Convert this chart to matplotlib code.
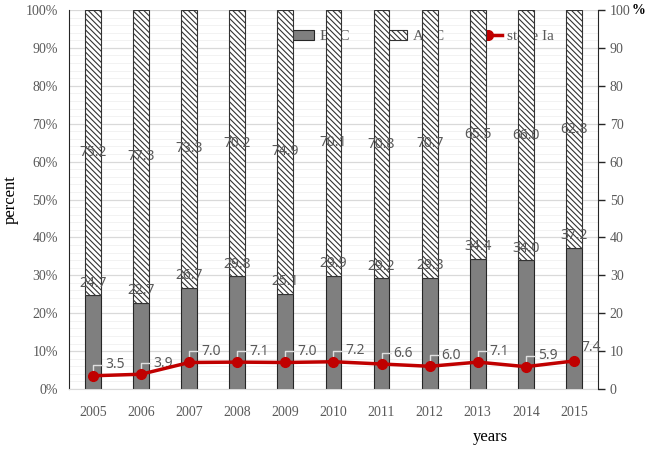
import numpy as np
import matplotlib
matplotlib.use("Agg")
import matplotlib.pyplot as plt
from matplotlib.ticker import MultipleLocator

years = ["2005", "2006", "2007", "2008", "2009", "2010", "2011", "2012", "2013", "2014", "2015"]
egc = [24.7, 22.7, 26.7, 29.8, 25.1, 29.9, 29.2, 29.3, 34.4, 34.0, 37.2]
agc = [75.2, 77.3, 73.3, 70.2, 74.9, 70.1, 70.8, 70.7, 65.5, 66.0, 62.8]
stage_ia = [3.5, 3.9, 7.0, 7.1, 7.0, 7.2, 6.6, 6.0, 7.1, 5.9, 7.4]

SERIF = "Liberation Serif"
SANS = "Noto Sans"
GRAY = "#595959"

plt.rcParams["hatch.linewidth"] = 0.8

x = np.arange(len(years))
egc = np.array(egc)
agc = np.array(agc)

fig = plt.figure(figsize=(6.5, 4.55), dpi=100)
ax1 = fig.add_axes([0.106, 0.145, 0.814, 0.833])
ax2 = ax1.twinx()

w = 0.33
b1 = ax1.bar(x, egc, w, color="#7f7f7f", edgecolor="#262626", linewidth=0.8, zorder=2, label="EGC")
b2 = ax1.bar(x, agc, w, bottom=egc, color="white", edgecolor="#333333", hatch="\\" * 6,
             linewidth=0.8, zorder=2, label="AGC")

for xi, e, a in zip(x, egc, agc):
    ax1.text(xi, e + 1.2, f"{e:.1f}", ha="center", va="bottom", color=GRAY,
             fontsize=10, fontfamily=SANS, zorder=4)
    ax1.text(xi, e + a / 2, f"{a:.1f}", ha="center", va="center", color=GRAY,
             fontsize=10, fontfamily=SANS, zorder=4)

ax1.set_xlim(-0.5, len(years) - 0.5)
ax1.set_ylim(0, 100)
ax1.yaxis.set_minor_locator(MultipleLocator(2))
ax1.set_yticks(range(0, 101, 10))
ax1.set_yticklabels([f"{v}%" for v in range(0, 101, 10)])
ax1.grid(axis="y", which="major", color="#d9d9d9", linewidth=0.9, zorder=0)
ax1.grid(axis="y", which="minor", color="#f2f2f2", linewidth=0.7, zorder=0)
ax1.set_axisbelow(True)
ax1.set_xticks(x)
ax1.set_xticklabels(years)
ax1.tick_params(axis="both", which="both", length=0, colors=GRAY, labelsize=10, pad=8)
ax1.tick_params(axis="x", pad=12)
for lab in ax1.get_xticklabels() + ax1.get_yticklabels():
    lab.set_fontfamily(SERIF)
ax1.spines["top"].set_visible(False)
ax1.spines["right"].set_visible(False)
ax1.spines["left"].set_color("#262626")
ax1.spines["bottom"].set_color("#d9d9d9")
ax1.set_ylabel("percent", fontfamily=SERIF, fontsize=12, labelpad=5)
fig.text(0.755, 0.03, "years", fontfamily=SERIF, fontsize=12, ha="center")

line, = ax2.plot(x, stage_ia, color="#c00000", linewidth=2.5, marker="o", markersize=7,
                 label="stage Ia", zorder=5)
for xi, v in zip(x, stage_ia):
    if xi == len(x) - 1:
        ax2.annotate(f"{v:.1f}", xy=(xi, v), xytext=(7, 13), textcoords="offset pixels",
                     color=GRAY, fontsize=10, fontfamily=SANS, va="center")
        continue
    ax2.annotate(f"{v:.1f}", xy=(xi, v), xytext=(12, 11), textcoords="offset pixels",
                 color=GRAY, fontsize=10, fontfamily=SANS, va="center",
                 arrowprops=dict(arrowstyle="-", color="#e0e0e0", lw=1,
                                 connectionstyle="angle,angleA=0,angleB=90,rad=0",
                                 shrinkA=0, shrinkB=4))
ax2.set_ylim(0, 100)
ax2.set_yticks(range(0, 101, 10))
ax2.set_yticklabels([str(v) for v in range(0, 101, 10)])
ax2.tick_params(axis="y", direction="out", length=5, width=1, color="#262626",
                labelcolor=GRAY, labelsize=10)
for lab in ax2.get_yticklabels():
    lab.set_fontfamily(SERIF)
for s in ["top", "left", "bottom"]:
    ax2.spines[s].set_visible(False)
ax2.spines["right"].set_color("#262626")
fig.text(0.972, 0.978, "%", fontfamily=SERIF, fontsize=10, fontweight="bold", va="center", ha="left")

leg = ax1.legend([b1, b2, line], ["EGC", "AGC", "stage Ia"], ncol=3, frameon=False,
                 loc="center left", bbox_to_anchor=(0.41, 0.93), borderpad=0, borderaxespad=0,
                 handlelength=1.85, columnspacing=1.9, handletextpad=0.35,
                 prop={"family": SERIF, "size": 11})
for t in leg.get_texts():
    t.set_color(GRAY)
leg.set_zorder(1)

fig.savefig("out.png", dpi=100)
